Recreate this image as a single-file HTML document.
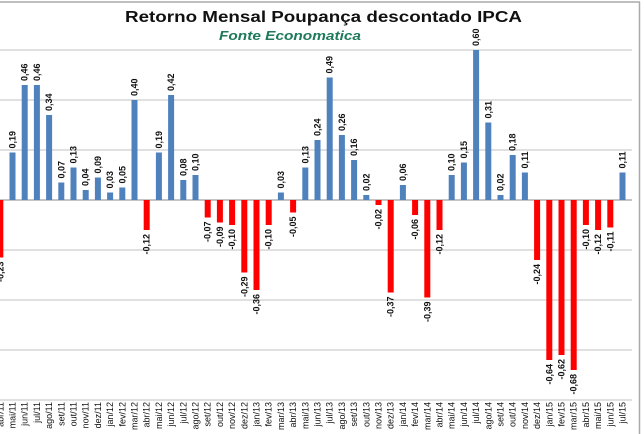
<!DOCTYPE html>
<html><head><meta charset="utf-8"><style>
html,body{margin:0;padding:0;background:#fff}
svg{display:block}
text{font-family:"Liberation Sans",sans-serif}
.v{font-size:9px;font-weight:bold;fill:#111;text-anchor:start}
.n{font-size:9px;font-weight:bold;fill:#111;text-anchor:end}
.m{font-size:9px;fill:#111;text-anchor:end}
.p{fill:#4f81bd}.r{fill:#ff0000}
</style></head><body>
<svg width="644" height="434" viewBox="0 0 644 434" xmlns="http://www.w3.org/2000/svg">
<rect x="0" y="0" width="644" height="434" fill="#fff"/>
<line x1="0" y1="2" x2="640" y2="2" stroke="#aaa" stroke-width="1.5"/>
<line x1="639.5" y1="2" x2="639.5" y2="434" stroke="#aaa" stroke-width="1.5"/>
<g stroke="#c0c0c0" stroke-width="1">
<line x1="0" y1="50" x2="632" y2="50"/><line x1="0" y1="100" x2="632" y2="100"/><line x1="0" y1="150" x2="632" y2="150"/>
<line x1="0" y1="250" x2="632" y2="250"/><line x1="0" y1="300" x2="632" y2="300"/><line x1="0" y1="350" x2="632" y2="350"/><line x1="0" y1="400" x2="632" y2="400"/>
</g>
<line x1="0" y1="200" x2="632" y2="200" stroke="#888" stroke-width="1"/>
<text x="125" y="22" textLength="397" lengthAdjust="spacingAndGlyphs" style="font-size:16px;font-weight:bold;fill:#111">Retorno Mensal  Poupança descontado IPCA</text>
<text x="219" y="40" textLength="142" lengthAdjust="spacingAndGlyphs" style="font-size:13px;font-weight:bold;font-style:italic;fill:#1e7a5a">Fonte Economatica</text>

<g transform="translate(0.3,0)"><rect class="r" x="-3" y="200" width="6" height="57.5"/><text class="n" transform="translate(3,261.5) rotate(-90)">-0,23</text><text class="m" transform="translate(3,402) rotate(-90)">abr/11</text></g>
<g transform="translate(12.5,0)"><rect class="p" x="-3" y="152.5" width="6" height="47.5"/><text class="v" transform="translate(3,148.5) rotate(-90)">0,19</text><text class="m" transform="translate(3,402) rotate(-90)">mai/11</text></g>
<g transform="translate(24.7,0)"><rect class="p" x="-3" y="85" width="6" height="115"/><text class="v" transform="translate(3,81) rotate(-90)">0,46</text><text class="m" transform="translate(3,402) rotate(-90)">jun/11</text></g>
<g transform="translate(36.9,0)"><rect class="p" x="-3" y="85" width="6" height="115"/><text class="v" transform="translate(3,81) rotate(-90)">0,46</text><text class="m" transform="translate(3,402) rotate(-90)">jul/11</text></g>
<g transform="translate(49.1,0)"><rect class="p" x="-3" y="115" width="6" height="85"/><text class="v" transform="translate(3,111) rotate(-90)">0,34</text><text class="m" transform="translate(3,402) rotate(-90)">ago/11</text></g>
<g transform="translate(61.3,0)"><rect class="p" x="-3" y="182.5" width="6" height="17.5"/><text class="v" transform="translate(3,178.5) rotate(-90)">0,07</text><text class="m" transform="translate(3,402) rotate(-90)">set/11</text></g>
<g transform="translate(73.5,0)"><rect class="p" x="-3" y="167.5" width="6" height="32.5"/><text class="v" transform="translate(3,163.5) rotate(-90)">0,13</text><text class="m" transform="translate(3,402) rotate(-90)">out/11</text></g>
<g transform="translate(85.7,0)"><rect class="p" x="-3" y="190" width="6" height="10"/><text class="v" transform="translate(3,186) rotate(-90)">0,04</text><text class="m" transform="translate(3,402) rotate(-90)">nov/11</text></g>
<g transform="translate(97.9,0)"><rect class="p" x="-3" y="177.5" width="6" height="22.5"/><text class="v" transform="translate(3,173.5) rotate(-90)">0,09</text><text class="m" transform="translate(3,402) rotate(-90)">dez/11</text></g>
<g transform="translate(110.1,0)"><rect class="p" x="-3" y="192.5" width="6" height="7.5"/><text class="v" transform="translate(3,188.5) rotate(-90)">0,03</text><text class="m" transform="translate(3,402) rotate(-90)">jan/12</text></g>
<g transform="translate(122.3,0)"><rect class="p" x="-3" y="187.5" width="6" height="12.5"/><text class="v" transform="translate(3,183.5) rotate(-90)">0,05</text><text class="m" transform="translate(3,402) rotate(-90)">fev/12</text></g>
<g transform="translate(134.5,0)"><rect class="p" x="-3" y="100" width="6" height="100"/><text class="v" transform="translate(3,96) rotate(-90)">0,40</text><text class="m" transform="translate(3,402) rotate(-90)">mar/12</text></g>
<g transform="translate(146.7,0)"><rect class="r" x="-3" y="200" width="6" height="30"/><text class="n" transform="translate(3,234) rotate(-90)">-0,12</text><text class="m" transform="translate(3,402) rotate(-90)">abr/12</text></g>
<g transform="translate(158.9,0)"><rect class="p" x="-3" y="152.5" width="6" height="47.5"/><text class="v" transform="translate(3,148.5) rotate(-90)">0,19</text><text class="m" transform="translate(3,402) rotate(-90)">mai/12</text></g>
<g transform="translate(171.1,0)"><rect class="p" x="-3" y="95" width="6" height="105"/><text class="v" transform="translate(3,91) rotate(-90)">0,42</text><text class="m" transform="translate(3,402) rotate(-90)">jun/12</text></g>
<g transform="translate(183.3,0)"><rect class="p" x="-3" y="180" width="6" height="20"/><text class="v" transform="translate(3,176) rotate(-90)">0,08</text><text class="m" transform="translate(3,402) rotate(-90)">jul/12</text></g>
<g transform="translate(195.5,0)"><rect class="p" x="-3" y="175" width="6" height="25"/><text class="v" transform="translate(3,171) rotate(-90)">0,10</text><text class="m" transform="translate(3,402) rotate(-90)">ago/12</text></g>
<g transform="translate(207.7,0)"><rect class="r" x="-3" y="200" width="6" height="17.5"/><text class="n" transform="translate(3,221.5) rotate(-90)">-0,07</text><text class="m" transform="translate(3,402) rotate(-90)">set/12</text></g>
<g transform="translate(219.9,0)"><rect class="r" x="-3" y="200" width="6" height="22.5"/><text class="n" transform="translate(3,226.5) rotate(-90)">-0,09</text><text class="m" transform="translate(3,402) rotate(-90)">out/12</text></g>
<g transform="translate(232.1,0)"><rect class="r" x="-3" y="200" width="6" height="25"/><text class="n" transform="translate(3,229) rotate(-90)">-0,10</text><text class="m" transform="translate(3,402) rotate(-90)">nov/12</text></g>
<g transform="translate(244.3,0)"><rect class="r" x="-3" y="200" width="6" height="72.5"/><text class="n" transform="translate(3,276.5) rotate(-90)">-0,29</text><text class="m" transform="translate(3,402) rotate(-90)">dez/12</text></g>
<g transform="translate(256.5,0)"><rect class="r" x="-3" y="200" width="6" height="90"/><text class="n" transform="translate(3,294) rotate(-90)">-0,36</text><text class="m" transform="translate(3,402) rotate(-90)">jan/13</text></g>
<g transform="translate(268.7,0)"><rect class="r" x="-3" y="200" width="6" height="25"/><text class="n" transform="translate(3,229) rotate(-90)">-0,10</text><text class="m" transform="translate(3,402) rotate(-90)">fev/13</text></g>
<g transform="translate(280.9,0)"><rect class="p" x="-3" y="192.5" width="6" height="7.5"/><text class="v" transform="translate(3,188.5) rotate(-90)">0,03</text><text class="m" transform="translate(3,402) rotate(-90)">mar/13</text></g>
<g transform="translate(293.1,0)"><rect class="r" x="-3" y="200" width="6" height="12.5"/><text class="n" transform="translate(3,216.5) rotate(-90)">-0,05</text><text class="m" transform="translate(3,402) rotate(-90)">abr/13</text></g>
<g transform="translate(305.3,0)"><rect class="p" x="-3" y="167.5" width="6" height="32.5"/><text class="v" transform="translate(3,163.5) rotate(-90)">0,13</text><text class="m" transform="translate(3,402) rotate(-90)">mai/13</text></g>
<g transform="translate(317.5,0)"><rect class="p" x="-3" y="140" width="6" height="60"/><text class="v" transform="translate(3,136) rotate(-90)">0,24</text><text class="m" transform="translate(3,402) rotate(-90)">jun/13</text></g>
<g transform="translate(329.7,0)"><rect class="p" x="-3" y="77.5" width="6" height="122.5"/><text class="v" transform="translate(3,73.5) rotate(-90)">0,49</text><text class="m" transform="translate(3,402) rotate(-90)">jul/13</text></g>
<g transform="translate(341.9,0)"><rect class="p" x="-3" y="135" width="6" height="65"/><text class="v" transform="translate(3,131) rotate(-90)">0,26</text><text class="m" transform="translate(3,402) rotate(-90)">ago/13</text></g>
<g transform="translate(354.1,0)"><rect class="p" x="-3" y="160" width="6" height="40"/><text class="v" transform="translate(3,156) rotate(-90)">0,16</text><text class="m" transform="translate(3,402) rotate(-90)">set/13</text></g>
<g transform="translate(366.3,0)"><rect class="p" x="-3" y="195" width="6" height="5"/><text class="v" transform="translate(3,191) rotate(-90)">0,02</text><text class="m" transform="translate(3,402) rotate(-90)">out/13</text></g>
<g transform="translate(378.5,0)"><rect class="r" x="-3" y="200" width="6" height="5"/><text class="n" transform="translate(3,209) rotate(-90)">-0,02</text><text class="m" transform="translate(3,402) rotate(-90)">nov/13</text></g>
<g transform="translate(390.7,0)"><rect class="r" x="-3" y="200" width="6" height="92.5"/><text class="n" transform="translate(3,296.5) rotate(-90)">-0,37</text><text class="m" transform="translate(3,402) rotate(-90)">dez/13</text></g>
<g transform="translate(402.9,0)"><rect class="p" x="-3" y="185" width="6" height="15"/><text class="v" transform="translate(3,181) rotate(-90)">0,06</text><text class="m" transform="translate(3,402) rotate(-90)">jan/14</text></g>
<g transform="translate(415.1,0)"><rect class="r" x="-3" y="200" width="6" height="15"/><text class="n" transform="translate(3,219) rotate(-90)">-0,06</text><text class="m" transform="translate(3,402) rotate(-90)">fev/14</text></g>
<g transform="translate(427.3,0)"><rect class="r" x="-3" y="200" width="6" height="97.5"/><text class="n" transform="translate(3,301.5) rotate(-90)">-0,39</text><text class="m" transform="translate(3,402) rotate(-90)">mar/14</text></g>
<g transform="translate(439.5,0)"><rect class="r" x="-3" y="200" width="6" height="30"/><text class="n" transform="translate(3,234) rotate(-90)">-0,12</text><text class="m" transform="translate(3,402) rotate(-90)">abr/14</text></g>
<g transform="translate(451.7,0)"><rect class="p" x="-3" y="175" width="6" height="25"/><text class="v" transform="translate(3,171) rotate(-90)">0,10</text><text class="m" transform="translate(3,402) rotate(-90)">mai/14</text></g>
<g transform="translate(463.9,0)"><rect class="p" x="-3" y="162.5" width="6" height="37.5"/><text class="v" transform="translate(3,158.5) rotate(-90)">0,15</text><text class="m" transform="translate(3,402) rotate(-90)">jun/14</text></g>
<g transform="translate(476.1,0)"><rect class="p" x="-3" y="50" width="6" height="150"/><text class="v" transform="translate(3,46) rotate(-90)">0,60</text><text class="m" transform="translate(3,402) rotate(-90)">jul/14</text></g>
<g transform="translate(488.3,0)"><rect class="p" x="-3" y="122.5" width="6" height="77.5"/><text class="v" transform="translate(3,118.5) rotate(-90)">0,31</text><text class="m" transform="translate(3,402) rotate(-90)">ago/14</text></g>
<g transform="translate(500.5,0)"><rect class="p" x="-3" y="195" width="6" height="5"/><text class="v" transform="translate(3,191) rotate(-90)">0,02</text><text class="m" transform="translate(3,402) rotate(-90)">set/14</text></g>
<g transform="translate(512.7,0)"><rect class="p" x="-3" y="155" width="6" height="45"/><text class="v" transform="translate(3,151) rotate(-90)">0,18</text><text class="m" transform="translate(3,402) rotate(-90)">out/14</text></g>
<g transform="translate(524.9,0)"><rect class="p" x="-3" y="172.5" width="6" height="27.5"/><text class="v" transform="translate(3,168.5) rotate(-90)">0,11</text><text class="m" transform="translate(3,402) rotate(-90)">nov/14</text></g>
<g transform="translate(537.1,0)"><rect class="r" x="-3" y="200" width="6" height="60"/><text class="n" transform="translate(3,264) rotate(-90)">-0,24</text><text class="m" transform="translate(3,402) rotate(-90)">dez/14</text></g>
<g transform="translate(549.3,0)"><rect class="r" x="-3" y="200" width="6" height="160"/><text class="n" transform="translate(3,364) rotate(-90)">-0,64</text><text class="m" transform="translate(3,402) rotate(-90)">jan/15</text></g>
<g transform="translate(561.5,0)"><rect class="r" x="-3" y="200" width="6" height="155"/><text class="n" transform="translate(3,359) rotate(-90)">-0,62</text><text class="m" transform="translate(3,402) rotate(-90)">fev/15</text></g>
<g transform="translate(573.7,0)"><rect class="r" x="-3" y="200" width="6" height="170"/><text class="n" transform="translate(3,374) rotate(-90)">-0,68</text><text class="m" transform="translate(3,402) rotate(-90)">mar/15</text></g>
<g transform="translate(585.9,0)"><rect class="r" x="-3" y="200" width="6" height="25"/><text class="n" transform="translate(3,229) rotate(-90)">-0,10</text><text class="m" transform="translate(3,402) rotate(-90)">abr/15</text></g>
<g transform="translate(598.1,0)"><rect class="r" x="-3" y="200" width="6" height="30"/><text class="n" transform="translate(3,234) rotate(-90)">-0,12</text><text class="m" transform="translate(3,402) rotate(-90)">mai/15</text></g>
<g transform="translate(610.3,0)"><rect class="r" x="-3" y="200" width="6" height="27.5"/><text class="n" transform="translate(3,231.5) rotate(-90)">-0,11</text><text class="m" transform="translate(3,402) rotate(-90)">jun/15</text></g>
<g transform="translate(622.5,0)"><rect class="p" x="-3" y="172.5" width="6" height="27.5"/><text class="v" transform="translate(3,168.5) rotate(-90)">0,11</text><text class="m" transform="translate(3,402) rotate(-90)">jul/15</text></g>
</svg>
</body></html>
